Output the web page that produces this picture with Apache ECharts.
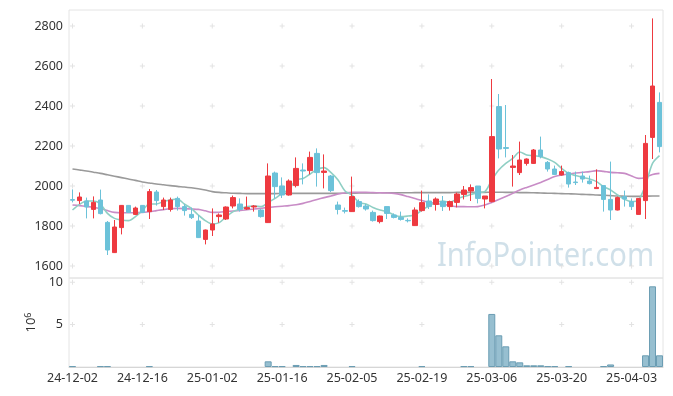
<!DOCTYPE html>
<html><head><meta charset="utf-8">
<script src="https://cdn.jsdelivr.net/npm/echarts@6/dist/echarts.min.js"></script>
<style>html,body{margin:0;padding:0;background:#fff}#c{width:673px;height:396px}</style>
</head><body><div id="c"></div>
<script>
const dates = ['24-12-02','24-12-03','24-12-04','24-12-05','24-12-06','24-12-09','24-12-10','24-12-11','24-12-12','24-12-13',
'24-12-16','24-12-17','24-12-18','24-12-19','24-12-20','24-12-23','24-12-24','24-12-26','24-12-27','24-12-30',
'25-01-02','25-01-03','25-01-06','25-01-07','25-01-08','25-01-09','25-01-10','25-01-13','25-01-14','25-01-15',
'25-01-16','25-01-17','25-01-20','25-01-21','25-01-22','25-01-23','25-01-24','25-01-31','25-02-03','25-02-04',
'25-02-05','25-02-06','25-02-07','25-02-10','25-02-11','25-02-12','25-02-13','25-02-14','25-02-17','25-02-18',
'25-02-19','25-02-20','25-02-21','25-02-24','25-02-25','25-02-26','25-02-27','25-02-28','25-03-04','25-03-05',
'25-03-06','25-03-07','25-03-10','25-03-11','25-03-12','25-03-13','25-03-14','25-03-17','25-03-18','25-03-19',
'25-03-20','25-03-21','25-03-24','25-03-25','25-03-26','25-03-27','25-03-28','25-03-31','25-04-01','25-04-02',
'25-04-03','25-04-04','25-04-07','25-04-08','25-04-09'];

const open = [1932,1927,1925,1883,1930,1818,1667,1792,1903,1858,
1903,1872,1970,1897,1883,1938,1897,1858,1825,1733,
1780,1847,1835,1900,1910,1885,1895,1880,1817,2065,
2000,1955,2002,2080,2077,2163,2068,2050,1905,1877,
1872,1922,1900,1868,1822,1897,1855,1843,1828,1802,
1877,1925,1908,1922,1897,1918,1958,1975,2000,1935,
1922,2397,2192,2093,2067,2113,2113,2180,2118,2085,
2055,2067,2020,2050,2025,1987,2002,1933,1880,1947,
1922,1858,1927,2243,2418];
const close = [1929,1945,1895,1918,1862,1680,1795,1903,1868,1890,
1868,1972,1927,1930,1930,1897,1877,1842,1742,1780,
1810,1855,1895,1942,1883,1892,1900,1847,2050,1997,
1955,2025,2088,2075,2143,2067,2075,1977,1883,1874,
1947,1897,1885,1827,1850,1863,1843,1833,1826,1880,
1917,1897,1935,1897,1922,1960,1980,1992,1938,1950,
2247,2185,2188,2100,2130,2135,2180,2147,2085,2058,
2072,2010,2017,2035,2012,1993,1933,1880,1942,1935,
1897,1938,2213,2500,2197];
const low = [1918,1910,1838,1838,1858,1655,1665,1758,1865,1855,
1865,1835,1902,1880,1872,1877,1852,1835,1740,1708,
1750,1817,1830,1888,1872,1880,1872,1842,1815,1938,
1940,1952,1993,2008,2058,1997,1988,1970,1858,1863,
1870,1892,1877,1822,1813,1835,1838,1827,1818,1800,
1872,1885,1877,1875,1877,1893,1933,1925,1913,1888,
1918,2138,2143,1997,2055,2102,2110,2138,2072,2055,
2052,1992,2005,2017,2008,1987,1872,1830,1878,1897,
1880,1858,1835,2135,2168];
const high = [1983,1968,1942,1948,1982,1825,1830,1905,1905,1897,
1905,1985,1980,1942,1942,1947,1908,1892,1855,1782,
1888,1863,1898,1952,1938,1947,1905,1885,2113,2072,
2043,2033,2143,2113,2172,2188,2158,2055,1922,1892,
2047,1933,1910,1877,1852,1897,1863,1872,1838,1893,
1977,1958,1943,1950,1927,1967,2000,2008,2000,1950,
2535,2460,2405,2155,2222,2138,2185,2247,2125,2102,
2102,2072,2072,2072,2052,2083,2002,2122,1947,1977,
1938,1940,2255,2838,2468];

const ma5 = [1880,1908,1925,1925,1910,1863,1838,1830,1827,1847,
1877,1910,1910,1922,1930,1935,1910,1888,1855,1827,
1810,1817,1847,1872,1885,1897,1900,1897,1918,1938,
1963,1985,2030,2038,2060,2083,2092,2067,2030,1975,
1955,1918,1910,1893,1880,1872,1855,1847,1850,1855,
1880,1900,1917,1925,1918,1935,1947,1958,1967,1972,
2030,2080,2113,2138,2170,2155,2152,2147,2135,2118,
2088,2063,2052,2043,2035,2022,1997,1980,1955,1933,
1922,1930,2005,2113,2152];
const ma20 = [1905,1902,1898,1893,1888,1877,1868,1866,1866,1867,
1868,1872,1877,1882,1886,1888,1887,1885,1883,1876,
1868,1869,1872,1875,1878,1881,1885,1889,1893,1896,
1899,1902,1906,1913,1923,1933,1942,1950,1960,1965,
1968,1968,1968,1967,1966,1965,1963,1957,1947,1937,
1927,1918,1912,1908,1902,1897,1897,1896,1897,1905,
1918,1932,1947,1963,1980,1993,2005,2018,2033,2047,
2055,2060,2065,2069,2072,2077,2073,2068,2066,2063,
2050,2038,2043,2058,2063];
const ma60 = [2085,2080,2075,2069,2063,2056,2049,2042,2035,2028,
2020,2015,2010,2006,2002,1998,1995,1991,1986,1980,
1972,1968,1966,1964,1963,1962,1962,1962,1962,1962,
1963,1963,1963,1963,1963,1963,1963,1963,1963,1964,
1964,1965,1965,1965,1966,1966,1966,1966,1966,1967,
1967,1967,1967,1967,1967,1968,1968,1968,1968,1968,
1969,1969,1968,1968,1967,1967,1966,1965,1964,1963,
1962,1961,1960,1958,1957,1955,1954,1952,1950,1949,
1948,1948,1949,1950,1950];

const volume = [0.1,0,0,0,0.1,0.1,0,0,0,0,
0,0.1,0,0,0,0,0,0,0,0,
0,0,0,0,0,0,0,0,0.67,0.1,
0.1,0,0.24,0.1,0.1,0.1,0.24,0,0,0,
0.1,0,0,0,0,0,0,0,0,0,
0.1,0,0,0,0,0,0.1,0.1,0,0,
6.26,3.74,2.44,0.67,0.55,0.2,0.2,0.2,0.1,0.1,
0,0.1,0,0,0,0,0.1,0.3,0,0,
0,0,1.38,9.52,1.38];

const priceTicks = [1600,1800,2000,2200,2400,2600,2800];
const volumeTicks = [5,10];
const labelEvery = 10;

const ohlc = open.map((o,i)=>[o, close[i], low[i], high[i]]);
const volData = volume.map(v => v > 0 ? v : '-');
const crossPrice = [], crossVol = [];
for (let i = 0; i < dates.length; i += labelEvery) {
  priceTicks.forEach(v => crossPrice.push([i, v]));
  volumeTicks.forEach(v => crossVol.push([i, v]));
}
const crossSymbol = 'path://M2,0L3,0L3,5L2,5ZM0,2L5,2L5,3L0,3Z';
const FONT = '"Noto Sans", sans-serif';

const chart = echarts.init(document.getElementById('c'), null, {renderer:'canvas'});
chart.setOption({
  animation: false,
  backgroundColor: '#fff',
  grid: [
    {left: 69, right: 10, top: 10, height: 268, show: true, borderColor: '#e4e4e4', borderWidth: 1, backgroundColor: 'transparent'},
    {left: 69, right: 10, top: 278, height: 89, show: true, borderColor: '#e4e4e4', borderWidth: 1, backgroundColor: 'transparent'}
  ],
  graphic: [{
    type: 'text', x: 437, y: 241, scaleX: 0.91, z: 0, silent: true,
    style: {text: 'InfoPointer.com', font: '32px "Noto Sans", sans-serif', fill: 'rgba(170,198,215,0.55)'}
  }],
  xAxis: [
    {type: 'category', gridIndex: 0, data: dates, boundaryGap: true,
     axisLine: {show: false}, axisTick: {show: false}, axisLabel: {show: false}, splitLine: {show: false}},
    {type: 'category', gridIndex: 1, data: dates, boundaryGap: true,
     axisLine: {show: true, lineStyle: {color: '#d6d6d6'}}, axisTick: {show: false},
     axisLabel: {interval: labelEvery - 1, color: '#333', fontSize: 12.5, fontFamily: FONT, margin: 5},
     splitLine: {show: false}}
  ],
  yAxis: [
    {type: 'value', gridIndex: 0, min: 1540, max: 2880, scale: true,
     axisLine: {show: false}, axisTick: {show: false}, splitLine: {show: false},
     axisLabel: {customValues: priceTicks, formatter: v => String(v), color: '#333', fontSize: 12.5, fontFamily: FONT, margin: 6}},
    {type: 'value', gridIndex: 1, min: 0, max: 10.5,
     axisLine: {show: false}, axisTick: {show: false}, splitLine: {show: false},
     axisLabel: {customValues: volumeTicks, formatter: v => String(v), color: '#333', fontSize: 12.5, fontFamily: FONT, margin: 6},
     name: '{b|10}{s|6}', nameLocation: 'middle', nameRotate: 90, nameGap: 30,
     nameTextStyle: {rich: {
       b: {fontSize: 13, color: '#333', fontFamily: FONT},
       s: {fontSize: 9, color: '#333', fontFamily: FONT, verticalAlign: 'top', padding: [0,0,5,0]}
     }}}
  ],
  series: [
    {type: 'scatter', xAxisIndex: 0, yAxisIndex: 0, data: crossPrice, symbol: crossSymbol, symbolSize: 5,
     itemStyle: {color: '#dcdcdc'}, silent: true, z: 1},
    {type: 'scatter', xAxisIndex: 1, yAxisIndex: 1, data: crossVol, symbol: crossSymbol, symbolSize: 5,
     itemStyle: {color: '#dcdcdc'}, silent: true, z: 1},
    {type: 'line', name: 'MA60', xAxisIndex: 0, yAxisIndex: 0, data: ma60, showSymbol: false, smooth: 0.3,
     lineStyle: {color: '#9a9a9a', width: 1.6}, z: 2},
    {type: 'line', name: 'MA20', xAxisIndex: 0, yAxisIndex: 0, data: ma20, showSymbol: false, smooth: 0.3,
     lineStyle: {color: '#c88cc6', width: 1.6}, z: 2},
    {type: 'line', name: 'MA5', xAxisIndex: 0, yAxisIndex: 0, data: ma5, showSymbol: false, smooth: 0.3,
     lineStyle: {color: '#8fcfc4', width: 1.6}, z: 2},
    {type: 'candlestick', xAxisIndex: 0, yAxisIndex: 0, data: ohlc, barWidth: 5, z: 3,
     itemStyle: {color: '#ee3a40', color0: '#6cc2d9', borderColor: '#ee3a40', borderColor0: '#6cc2d9', borderWidth: 1}},
    {type: 'bar', xAxisIndex: 1, yAxisIndex: 1, data: volData, barCategoryGap: '0%',
     itemStyle: {color: '#97bfd0', borderColor: '#6b9db3', borderWidth: 1}, z: 3}
  ]
});
</script></body></html>
